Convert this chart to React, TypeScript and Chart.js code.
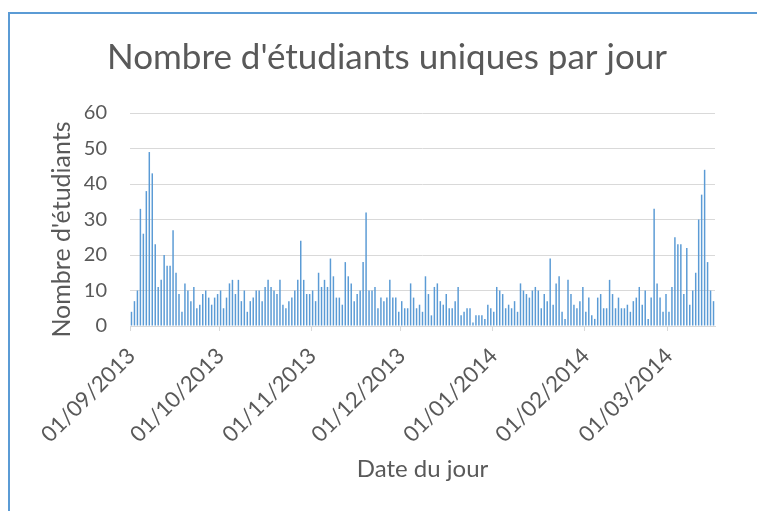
import { useEffect, useRef } from "react";
import { Chart, registerables } from "chart.js";

Chart.register(...registerables);

// Daily unique students, one array per month (first day = 1st of the month)
const sep2013 = [4, 7, 10, 33, 26, 38, 49, 43, 23, 11, 13, 20, 17, 17, 27, 15, 9, 4, 12, 10, 7, 11, 5, 6, 9, 10, 8, 6, 8, 9];
const oct2013 = [10, 5, 8, 12, 13, 9, 13, 7, 10, 4, 7, 8, 10, 10, 7, 11, 13, 11, 10, 9, 13, 6, 5, 7, 8, 10, 13, 24, 13, 9, 9];
const nov2013 = [10, 7, 15, 11, 13, 11, 19, 14, 8, 8, 6, 18, 14, 12, 7, 9, 10, 18, 32, 10, 10, 11, 5, 8, 7, 8, 13, 8, 8, 4];
const dec2013 = [7, 5, 5, 12, 8, 5, 6, 4, 14, 9, 3, 11, 12, 7, 6, 9, 5, 5, 7, 11, 3, 4, 5, 5, 1, 3, 3, 3, 2, 6, 5];
const jan2014 = [4, 11, 10, 9, 5, 6, 5, 7, 4, 12, 10, 9, 8, 10, 11, 10, 5, 9, 7, 19, 6, 12, 14, 4, 2, 13, 9, 6, 5, 7, 11];
const feb2014 = [4, 8, 3, 2, 8, 9, 5, 5, 13, 9, 5, 8, 5, 5, 6, 4, 7, 8, 11, 6, 10, 2, 8, 33, 12, 8, 4, 9];
const mar2014 = [4, 11, 25, 23, 23, 9, 22, 6, 10, 15, 30, 37, 44, 18, 10, 7];

const months = ["09/2013", "10/2013", "11/2013", "12/2013", "01/2014", "02/2014", "03/2014"];
const monthValues = [sep2013, oct2013, nov2013, dec2013, jan2014, feb2014, mar2014];

const yTicks = [0, 10, 20, 30, 40, 50, 60];

const chartTitle = "Nombre d'étudiants uniques par jour";
const yTitle = "Nombre d'étudiants";
const xTitle = "Date du jour";

const pad = (n: number) => (n < 10 ? "0" + n : "" + n);
const labels: string[] = [];
monthValues.forEach((arr, mi) => {
  arr.forEach((_, di) => labels.push(`${pad(di + 1)}/${months[mi]}`));
});
const values: number[] = monthValues.flat();

const TEXT = "#595959";
const GRID = "#D9D9D9";
const FONT = "Lato";

const titlesPlugin = {
  id: "titles",
  afterDraw(chart: any) {
    const ctx = chart.ctx;
    const area = chart.chartArea;
    ctx.save();
    ctx.fillStyle = TEXT;
    ctx.textAlign = "center";
    ctx.textBaseline = "alphabetic";
    ctx.font = `35px ${FONT}`;
    ctx.fillText(chartTitle, 387, 69);
    ctx.font = `24px ${FONT}`;
    ctx.fillText(xTitle, (area.left + area.right) / 2, 477);
    ctx.translate(70, 229.5);
    ctx.rotate(-Math.PI / 2);
    ctx.font = `25px ${FONT}`;
    ctx.fillText(yTitle, 0, 0);
    ctx.restore();
  },
};

export default function App() {
  const ref = useRef<HTMLCanvasElement>(null);
  useEffect(() => {
    if (!ref.current) return;
    const chart = new Chart(ref.current, {
      type: "bar",
      data: {
        labels,
        datasets: [
          {
            data: values,
            backgroundColor: "#5B9BD5",
            barPercentage: 0.5,
            categoryPercentage: 1,
          },
        ],
      },
      options: {
        animation: false,
        responsive: false,
        maintainAspectRatio: false,
        devicePixelRatio: 1,
        layout: { padding: { top: 113, right: 42, left: 0, bottom: 0 } },
        plugins: {
          legend: { display: false },
          tooltip: { enabled: false },
          title: { display: false },
        },
        scales: {
          x: {
            grid: {
              offset: true,
              drawOnChartArea: false,
              drawTicks: true,
              tickLength: 5,
              color: (c: any) =>
                c.index !== undefined && labels[c.index] && labels[c.index].startsWith("01/") ? GRID : "rgba(0,0,0,0)",
            },
            border: { color: GRID, width: 1 },
            ticks: {
              autoSkip: false,
              maxRotation: 45,
              minRotation: 45,
              color: TEXT,
              padding: 12,
              font: { family: FONT, size: 22 },
              callback: (_v: any, i: number) => (labels[i].startsWith("01/") ? labels[i] : ""),
            },
            afterFit: (s: any) => {
              s.height = 185;
            },
          },
          y: {
            min: yTicks[0],
            max: yTicks[yTicks.length - 1],
            ticks: {
              stepSize: 10,
              color: TEXT,
              padding: 23,
              font: { family: FONT, size: 20 },
            },
            grid: { color: GRID, drawTicks: false, lineWidth: 1 },
            border: { display: false },
            afterFit: (s: any) => {
              s.width = 130;
            },
          },
        },
      },
      plugins: [titlesPlugin],
    });
    return () => chart.destroy();
  }, []);

  return (
    <div
      style={{
        position: "fixed",
        left: 0,
        top: 0,
        width: 757,
        height: 511,
        overflow: "hidden",
        background: "#fff",
      }}
    >
      <div
        style={{
          position: "absolute",
          left: 8,
          top: 12,
          width: 800,
          height: 600,
          border: "2px solid #5B9BD5",
          boxSizing: "border-box",
        }}
      />
      <canvas ref={ref} width={757} height={511} style={{ position: "absolute", left: 0, top: 0 }} />
    </div>
  );
}
